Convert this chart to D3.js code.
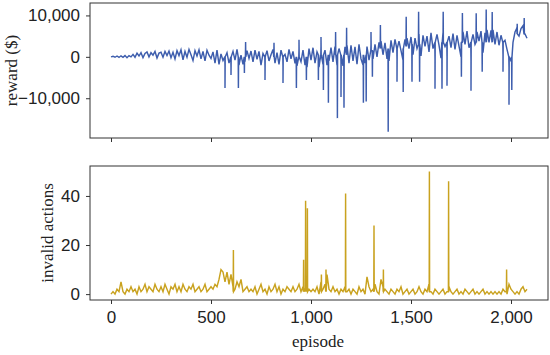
<!DOCTYPE html>
<html>
<head>
<meta charset="utf-8">
<script src="https://cdn.jsdelivr.net/npm/d3@7"></script>
<style>
  body { margin: 0; background: #fff; }
  svg { display: block; font-family: "Liberation Serif", serif; }
  .tick text { font-size: 17px; fill: #222; }
  .label { font-size: 17px; fill: #222; }
</style>
</head>
<body>
<svg id="chart" width="550" height="355"></svg>
<script>
// reward band, one value every 10 episodes (0..2080)
const episodeStep = 10;
const reward = [
  0, 150, -100, 200, -150, 250, -100, 300, -200, 300, 0,
  600, -100, 900, 200, 1000, -200, 800, 1200, 0, 1000, 400, 1300, -300, 900, 1100, -100, 1300, 300, 1400, -200,
  1100, -500, 1500, 300, 1700, -700, 1300, -100, 1800, 500, -900, 1500, 200, 1700, -500, 1300, -1000, 1600, 400, -400,
  1200, -1500, 1600, -1800, 700, -900, -2200, 1000, -1500, -2500, 1300, -800, 1800, -2000, 400, -1800, -1200, 1500, -400, 1400,
  -1200, 1600, -600, 1300, -2000, 800, -2500, 1500, -1000, 500, 1800, -1500, 1000, -1800, 1600, -2200, 600, -1200, 1800, -500,
  1300, -1600, -2200, 2000, -1200, 1600, -2000, -2500, 2000, -800, 2200, -1500, 1200, -2500, 2500, -1800, 1600, -2000, -1000, 2200,
  -1200, 2500, -2000, 2000, -1500, -2200, 2400, 2800, -1500, 2800, -1000, 2400, -1800, 3000, -500, -2000, -1500, 2500, -800, 3000,
  -500, 3000, 0, 3500, 3800, 500, 3400, -500, -1000, 4000, 1000, 4200, -500, 3800, 1500, -800, 4200, 4500, 2000, 4800,
  500, 4500, 2000, 5500, 200, 5200, 2500, 5000, 1200, 5800, 2000, -500, 5400, 2800, -300, 5800, 2500, 0, 5000, 2200,
  5600, 1800, 5200, 2600, 0, 6000, 3000, 6200, 2200, -800, 5400, 3000, 6000, 3800, 6200, 1000, 5800, 6500, 3500, 6400,
  6500, 3000, 6000, 2800, 5200, 500, 4000, 1800, -2500, -1000, 3500, 6000, 7000, 5000, 6800, 7500, 5500, 4500
];

// single-episode reward spikes: [episode, value]
const rewardSpikes = [
  [569, 0], [570, -7500], [571, 0],
  [599, 0], [600, -4400], [601, 0],
  [636, 0], [637, -7500], [638, 0],
  [666, 0], [667, -3900], [668, 0],
  [672, 0], [673, 3600], [674, 0],
  [769, 0], [770, -5600], [771, 0],
  [814, 0], [815, 3400], [816, 0],
  [859, 0], [860, -6300], [861, 0],
  [926, 0], [927, -7500], [928, 0],
  [939, 0], [940, 4100], [941, 0],
  [976, 0], [977, -5600], [978, 0],
  [1036, 500], [1037, -5600], [1038, 500],
  [1049, 500], [1050, 4800], [1051, 500],
  [1061, 500], [1062, -8000], [1063, 500],
  [1086, 500], [1087, -11100], [1088, 500],
  [1122, 500], [1123, 6000], [1124, 500],
  [1131, 500], [1132, -14800], [1133, 500],
  [1149, 500], [1150, -9700], [1151, 500],
  [1164, 500], [1165, -12300], [1166, 500],
  [1177, 500], [1178, 7000], [1179, 500],
  [1261, 500], [1262, -11100], [1263, 500],
  [1275, 500], [1276, -10800], [1277, 500],
  [1299, 1500], [1300, 6000], [1301, 1500],
  [1306, 1500], [1307, -4800], [1308, 1500],
  [1346, 2000], [1347, 7700], [1348, 2000],
  [1385, 2000], [1386, -18100], [1387, 2000],
  [1429, 2000], [1430, -6000], [1431, 2000],
  [1460, 2000], [1461, -8500], [1462, 2000],
  [1475, 2500], [1476, 9700], [1477, 2500],
  [1504, 3000], [1505, -6000], [1506, 3000],
  [1537, 3000], [1538, 10900], [1539, 3000],
  [1542, 3000], [1543, -6000], [1544, 3000],
  [1619, 3500], [1620, -7700], [1621, 3500],
  [1654, 3500], [1655, -7700], [1656, 3500],
  [1660, 3500], [1661, 10900], [1662, 3500],
  [1679, 3500], [1680, -7000], [1681, 3500],
  [1751, 3500], [1752, -4800], [1753, 3500],
  [1756, 3500], [1757, 10600], [1758, 3500],
  [1799, 3500], [1800, -8200], [1801, 3500],
  [1825, 3500], [1826, 10500], [1827, 3500],
  [1855, 3500], [1856, -3600], [1857, 3500],
  [1875, 3500], [1876, 11400], [1877, 3500],
  [1905, 3500], [1906, 10800], [1907, 3500],
  [1959, 3500], [1960, -3600], [1961, 3500],
  [1989, 0], [1990, -11600], [1991, 0],
  [2003, 0], [2004, -8000], [2005, 0],
  [2030, 5500], [2031, 8000], [2032, 5500],
  [2065, 5500], [2066, 9400], [2067, 5500]
];

// invalid actions, one value every 10 episodes
const invalid = [
  0, 1, 0, 2, 1, 5, 1, 0, 2, 1, 3,
  1, 2, 0, 3, 1, 2, 4, 1, 3, 2,
  1, 4, 2, 1, 3, 1, 4, 2, 0, 3,
  2, 4, 1, 3, 1, 4, 2, 1, 3, 2,
  4, 1, 2, 3, 1, 2, 4, 1, 2, 3,
  2, 4, 3, 6, 10, 9, 5, 9, 4, 8,
  3, 2, 5, 3, 6, 1, 2, 3, 1, 2,
  1, 3, 0, 2, 4, 1, 2, 0, 3, 1,
  2, 4, 1, 3, 0, 2, 1, 3, 2, 1,
  3, 1, 2, 4, 1, 3, 2, 5, 2, 1,
  2, 1, 3, 0, 5, 2, 4, 8, 2, 1,
  3, 1, 2, 0, 2, 1, 3, 1, 2, 0,
  2, 1, 0, 3, 1, 2, 0, 7, 3, 1,
  2, 4, 1, 0, 6, 3, 2, 1, 0, 2,
  1, 0, 2, 1, 3, 0, 1, 2, 0, 1,
  2, 0, 1, 3, 1, 0, 2, 1, 4, 1,
  0, 2, 1, 0, 1, 2, 0, 1, 3, 1,
  0, 1, 2, 0, 1, 0, 2, 1, 0, 1,
  2, 0, 1, 0, 1, 2, 0, 1, 0, 1,
  0, 1, 0, 1, 0, 2, 1, 0, 4, 2,
  1, 0, 1, 0, 2, 3, 1, 2
];

// single-episode spikes in invalid actions: [episode, value]
const invalidSpikes = [
  [611, 1], [612, 18], [613, 1],
  [962, 1], [963, 14], [964, 1],
  [972, 1], [973, 38], [974, 1],
  [981, 1], [982, 35], [983, 1],
  [1051, 1], [1052, 8], [1053, 1],
  [1074, 1], [1075, 10], [1076, 1],
  [1172, 1], [1173, 41], [1174, 1],
  [1314, 1], [1315, 28], [1316, 1],
  [1361, 1], [1362, 10], [1363, 1],
  [1591, 1], [1592, 50], [1593, 1],
  [1687, 1], [1688, 46], [1689, 1],
  [1977, 1], [1978, 10], [1979, 1]
];

const xTicks = [0, 500, 1000, 1500, 2000];
const rewardTicks = [-10000, 0, 10000];
const invalidTicks = [0, 20, 40];

const svg = d3.select("#chart");
const left = 90, right = 548;
const top1 = 3, bottom1 = 138;
const top2 = 166, bottom2 = 300;

const x = d3.scaleLinear().domain([-105, 2185]).range([left, right]);
const y1 = d3.scaleLinear().domain([-19600, 13000]).range([bottom1, top1]);
const y2 = d3.scaleLinear().domain([-2.4, 52.2]).range([bottom2, top2]);

const fmt = d3.format(",");

const merge = (vals, spikes) => vals.map((v, i) => [i * episodeStep, v])
  .concat(spikes)
  .sort((a, b) => a[0] - b[0]);

const rewardPts = merge(reward, rewardSpikes);
const invalidPts = merge(invalid, invalidSpikes);

function panel(yScale, yTicks, top, bottom, pts, color, width, label, labelX, showX) {
  const g = svg.append("g");
  const id = "clip" + top;
  svg.append("clipPath").attr("id", id)
    .append("rect").attr("x", left).attr("y", top)
    .attr("width", right - left).attr("height", bottom - top);

  const line = d3.line().x(d => x(d[0])).y(d => yScale(d[1]));
  g.append("path")
    .datum(pts)
    .attr("clip-path", `url(#${id})`)
    .attr("fill", "none")
    .attr("stroke", color)
    .attr("stroke-width", width)
    .attr("d", line);

  // frame
  g.append("rect")
    .attr("x", left).attr("y", top)
    .attr("width", right - left).attr("height", bottom - top)
    .attr("fill", "none").attr("stroke", "#333").attr("stroke-width", 1);

  const ya = g.append("g")
    .attr("transform", `translate(${left},0)`)
    .call(d3.axisLeft(yScale).tickValues(yTicks).tickSize(4).tickPadding(6).tickFormat(fmt));
  const xa = g.append("g")
    .attr("transform", `translate(0,${bottom})`)
    .call(d3.axisBottom(x).tickValues(xTicks).tickSize(4).tickPadding(7)
      .tickFormat(showX ? fmt : ""));
  [ya, xa].forEach(a => {
    a.select(".domain").remove();
    a.selectAll(".tick line").attr("stroke", "#333");
    a.selectAll(".tick text").attr("font-family", null).attr("font-size", null);
  });

  g.append("text")
    .attr("class", "label")
    .attr("transform", `translate(${labelX},${(top + bottom) / 2}) rotate(-90)`)
    .attr("text-anchor", "middle")
    .text(label);
}

panel(y1, rewardTicks, top1, bottom1, rewardPts, "#3d5dad", 1.45, "reward ($)", 17, false);
panel(y2, invalidTicks, top2, bottom2, invalidPts, "#c9a21f", 1.45, "invalid actions", 53, true);

svg.append("text")
  .attr("class", "label")
  .attr("x", x(1035))
  .attr("y", 347)
  .attr("text-anchor", "middle")
  .text("episode");
</script>
</body>
</html>
